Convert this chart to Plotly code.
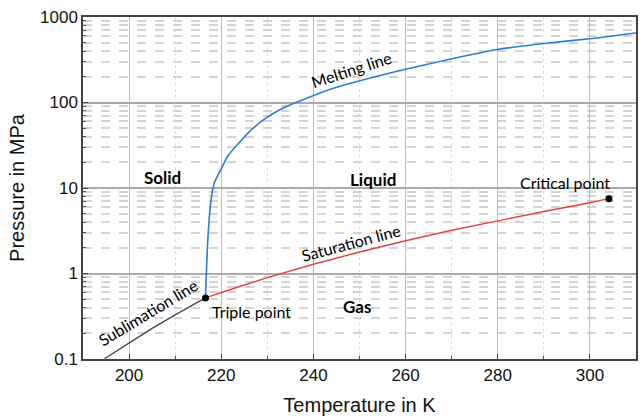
import numpy as np
import plotly.graph_objects as go

# Sublimation line (T in K, P in MPa)
sub_T = [194.7, 200.0, 205.0, 210.0, 216.58]
sub_P = [0.1013, 0.155, 0.228, 0.329, 0.518]

# Saturation line
sat_T = [216.58, 220, 230, 240, 250, 260, 270, 280, 290, 300, 304.13]
sat_P = [0.518, 0.599, 0.893, 1.283, 1.785, 2.419, 3.203, 4.161, 5.318, 6.713, 7.5]

# Melting line
melt_T = [216.58, 217.0, 217.4, 217.9, 218.5, 219.9, 221.5, 223.5, 226.0, 229.2, 233.0,
          236.8, 244.0, 251.1, 260.0, 268.4, 279.9, 290.0, 299.9, 310.0]
melt_P = [0.518, 2.0, 4.5, 8.0, 11.5, 16.4, 24.0, 32.0, 45.0, 63.0, 84.0,
          103.0, 145.0, 186.0, 245.0, 310.0, 417.0, 490.0, 556.0, 650.0]

points_T = [216.58, 304.13]
points_P = [0.518, 7.5]

ytick_vals = [0.1, 1, 10, 100, 1000]
ytick_text = ["0.1", "1", "10", "100", "1000"]

labels = [
    # text, T, P, angle, xanchor, bold, size
    ("Melting line", 248.2, 240, -18, "center", False, 16),
    ("Saturation line", 248.2, 2.32, -15, "center", False, 16),
    ("Sublimation line", 204.0, 0.35, -31, "center", False, 16),
    ("Triple point", 217.5, 0.356, 0, "left", False, 16),
    ("Critical point", 294.6, 11.5, 0, "center", False, 16),
    ("Solid", 207.2, 13.2, 0, "center", True, 17),
    ("Liquid", 252.9, 12.5, 0, "center", True, 17),
    ("Gas", 249.5, 0.406, 0, "center", True, 17),
]

fig = go.Figure()
fig.add_trace(go.Scatter(x=sub_T, y=sub_P, mode="lines",
                         line=dict(color="#4a4a4a", width=1.4), showlegend=False))
fig.add_trace(go.Scatter(x=sat_T, y=sat_P, mode="lines",
                         line=dict(color="#e8413c", width=1.4), showlegend=False))
fig.add_trace(go.Scatter(x=melt_T, y=melt_P, mode="lines",
                         line=dict(color="#2f7bd9", width=1.6, shape="spline", smoothing=0.7),
                         showlegend=False))
fig.add_trace(go.Scatter(x=points_T, y=points_P, mode="markers",
                         marker=dict(color="black", size=7), showlegend=False))

for text, T, P, ang, xa, bold, sz in labels:
    fig.add_annotation(x=T, y=np.log10(P), text=f"<b>{text}</b>" if bold else text,
                       showarrow=False, textangle=ang, xanchor=xa, yanchor="middle",
                       font=dict(family="Lato", size=sz, color="black"))

axis_common = dict(showline=True, mirror=True, linecolor="#444444", linewidth=1.5,
                   ticks="inside", ticklen=5, tickcolor="#444444", tickwidth=1.2,
                   zeroline=False,
                   tickfont=dict(family="Liberation Sans, Arial", size=17, color="#111111"))

fig.update_xaxes(range=[190, 310], tick0=200, dtick=20,
                 showgrid=True, gridcolor="#bdbdbd", gridwidth=1,
                 minor=dict(dtick=10, tick0=200, showgrid=True, gridcolor="#dddddd",
                            griddash="dot", ticks="inside", ticklen=3, tickcolor="#555555"),
                 title=dict(text="Temperature in K", standoff=14,
                            font=dict(family="Liberation Sans, Arial", size=20, color="#111111")),
                 **axis_common)
fig.update_yaxes(type="log", range=[-1, 3], tickvals=ytick_vals, ticktext=ytick_text,
                 showgrid=True, gridcolor="#aaaaaa", gridwidth=1.5,
                 minor=dict(dtick="D1", showgrid=True, gridcolor="#d4d4d4",
                            griddash="dash", ticks="inside", ticklen=3, tickcolor="#555555"),
                 title=dict(text="Pressure in MPa", standoff=10,
                            font=dict(family="Liberation Sans, Arial", size=20, color="#111111")),
                 **axis_common)

fig.update_layout(width=642, height=419, margin=dict(l=83, r=4, t=17, b=60),
                  plot_bgcolor="white", paper_bgcolor="white")

fig.write_html("out.html")
